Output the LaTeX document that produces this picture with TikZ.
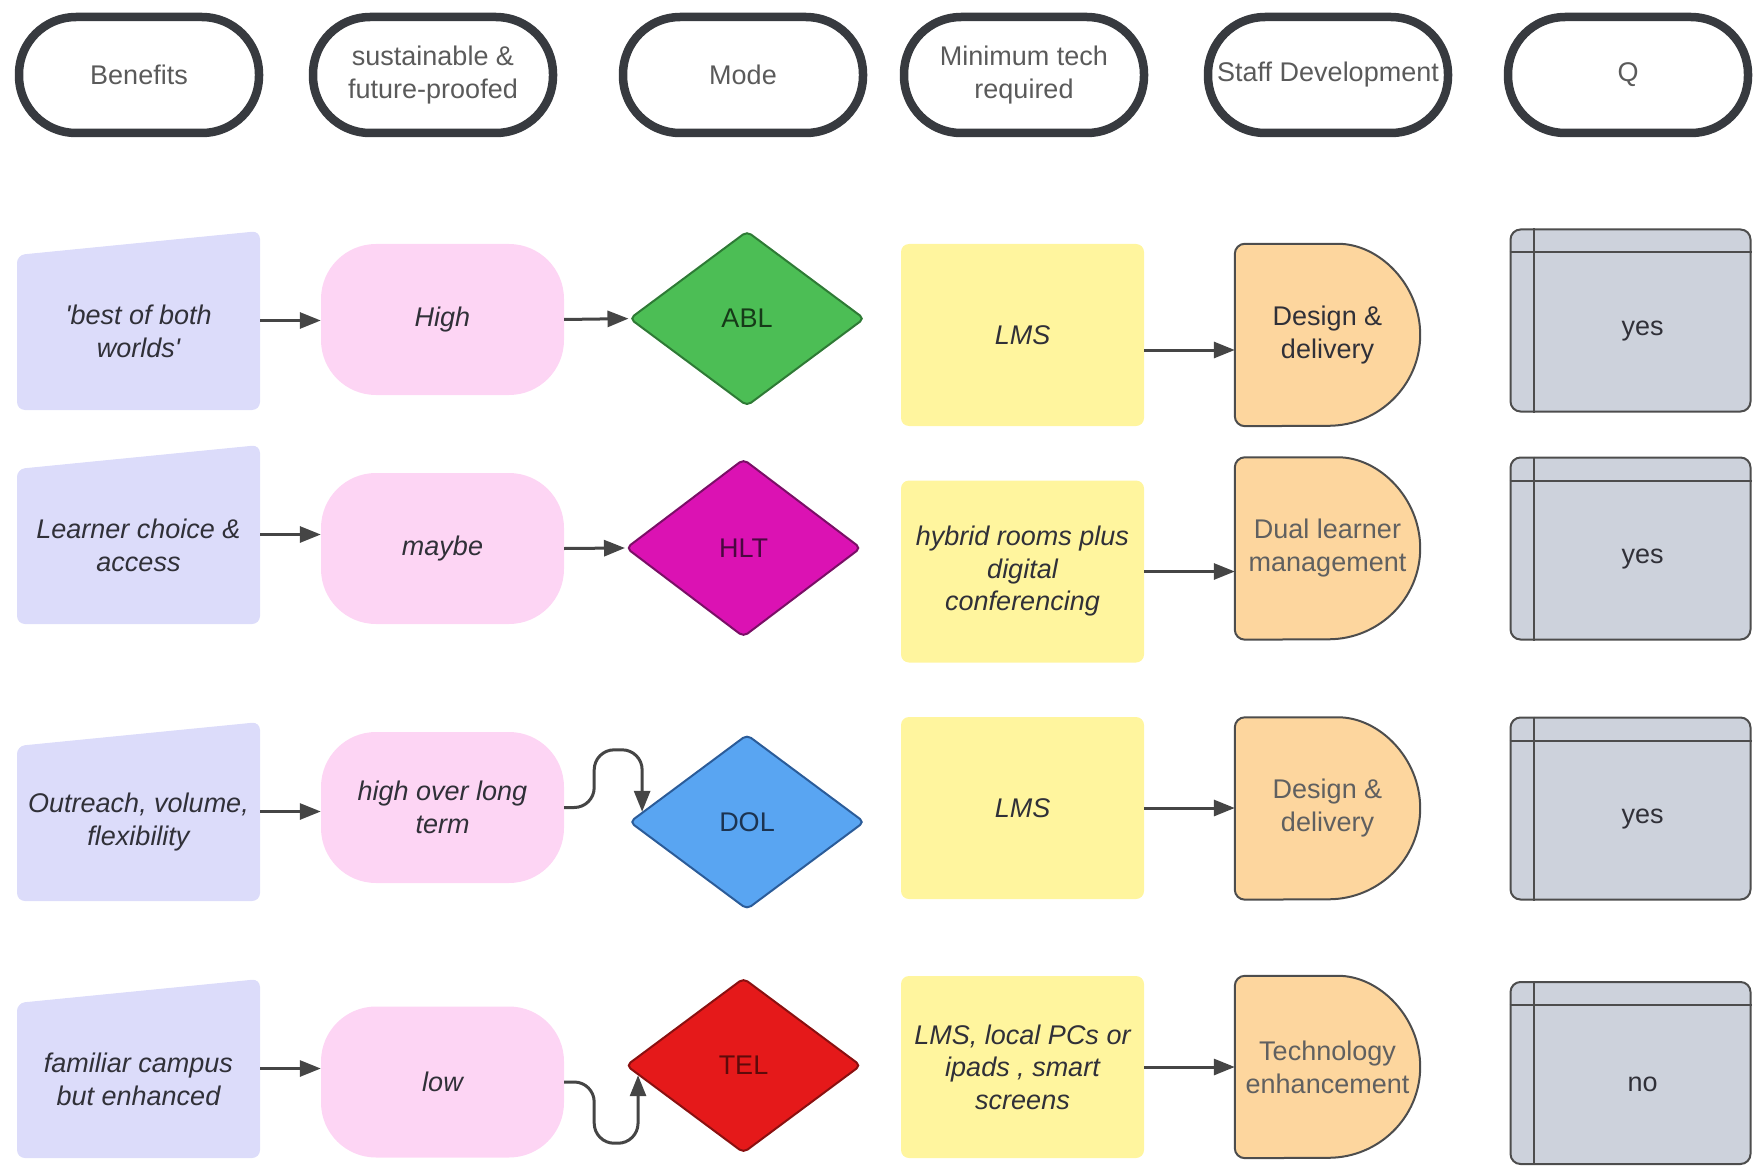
\documentclass[tikz,border=0pt]{standalone}
\usepackage{fontspec}
\setmainfont{Liberation Sans}
\usetikzlibrary{shapes.geometric, arrows.meta, calc, backgrounds}

% palette
\definecolor{hdrline}{HTML}{373A3F}
\definecolor{hdrtext}{HTML}{5A5A5A}
\definecolor{lav}{HTML}{DCDCFA}
\definecolor{pinkfill}{HTML}{FDD5F4}
\definecolor{yel}{HTML}{FFF59E}
\definecolor{orng}{HTML}{FDD69E}
\definecolor{qgrey}{HTML}{CDD2DC}
\definecolor{edge}{HTML}{4D4D4D}
\definecolor{arrowc}{HTML}{454545}
\definecolor{bodytext}{HTML}{303038}
\definecolor{softtext}{HTML}{606060}
\definecolor{ablfill}{HTML}{4CBE55}\definecolor{ablline}{HTML}{2E7A35}\definecolor{abltext}{HTML}{163A18}
\definecolor{hltfill}{HTML}{DB12B3}\definecolor{hltline}{HTML}{7A0F66}\definecolor{hlttext}{HTML}{4A0840}
\definecolor{dolfill}{HTML}{59A5F2}\definecolor{dolline}{HTML}{2B5C99}\definecolor{doltext}{HTML}{1C3350}
\definecolor{telfill}{HTML}{E5191A}\definecolor{telline}{HTML}{8A1010}\definecolor{teltext}{HTML}{5E0A0A}

\tikzset{
  every node/.style={font=\fontsize{27}{33}\selectfont, align=center, inner sep=0pt},
  header/.style={draw=hdrline, line width=8.5pt, rounded corners=57pt,
    minimum width=240pt, minimum height=116pt, text=hdrtext},
  benefit/.style={minimum width=243pt, minimum height=179pt,
    path picture={\fill[lav, rounded corners=8pt]
      (path picture bounding box.south west) -- (path picture bounding box.south east)
      -- (path picture bounding box.north east)
      -- ([yshift=-24pt]path picture bounding box.north west) -- cycle;}},
  bentext/.style={font=\fontsize{27}{33}\selectfont\itshape, text=bodytext},
  pill/.style={fill=pinkfill, rounded corners=55pt, minimum width=243pt,
    minimum height=151pt, font=\fontsize{27}{33}\selectfont\itshape, text=bodytext},
  mode/.style={diamond, minimum width=235pt, minimum height=175pt,
    line width=2pt, rounded corners=5pt},
  tech/.style={fill=yel, rounded corners=8pt, minimum width=243pt,
    minimum height=182pt, font=\fontsize{27}{32.5}\selectfont\itshape, text=bodytext},
  staff/.style={minimum width=185pt, minimum height=182pt},
  dshape/.style={fill=orng, draw=edge, line width=2pt},
  qbox/.style={fill=qgrey, draw=edge, line width=2pt, rounded corners=10pt,
    minimum width=240pt, minimum height=182pt},
  qline/.style={draw=edge, line width=2pt},
  flow/.style={draw=arrowc, line width=3pt, -{Triangle[length=21pt, width=16pt]}},
}

\begin{document}
\begin{tikzpicture}[x=1pt, y=-1pt]
\useasboundingbox (0,0) rectangle (1753,1166);

% column headers
\node[header] (h1) at (139,75)  {Benefits};
\node[header] (h2) at (433,75)  {sustainable \&\\future-proofed};
\node[header] (h3) at (743,75)  {Mode};
\node[header] (h4) at (1024,75) {Minimum tech\\required};
\node[header] (h5) at (1328,75) {Staff Development};
\node[header] (h6) at (1628,75) {Q};

% benefits column
\node[benefit] (b1) at (138.5,320.5) {};
\node[benefit] (b2) at (138.5,534.5) {};
\node[benefit] (b3) at (138.5,811.5) {};
\node[benefit] (b4) at (138.5,1068.5) {};
\node[bentext] (b1t) at ($(b1)+(0,11)$) {\textquotesingle best of both\\worlds\textquotesingle};
\node[bentext] (b2t) at ($(b2)+(0,11)$) {Learner choice \&\\access};
\node[bentext] (b3t) at ($(b3)+(0,11)$) {Outreach, volume,\\flexibility};
\node[bentext] (b4t) at ($(b4)+(0,11)$) {familiar campus\\but enhanced};

% sustainability column
\node[pill] (p1) at (442.5,319.5) {High};
\node[pill] (p2) at (442.5,548.5) {maybe};
\node[pill] (p3) at (442.5,807.5) {high over long\\term};
\node[pill] (p4) at (442.5,1082)  {low};

% mode column
\node[mode, fill=ablfill, draw=ablline, text=abltext] (d1) at (747,318.6)  {ABL};
\node[mode, fill=hltfill, draw=hltline, text=hlttext, minimum height=178pt] (d2) at (743.5,548) {HLT};
\node[mode, fill=dolfill, draw=dolline, text=doltext] (d3) at (747,822)    {DOL};
\node[mode, fill=telfill, draw=telline, text=teltext] (d4) at (743.5,1065.5) {TEL};

% technology column
\node[tech] (t1) at (1022.5,335)   {LMS};
\node[tech] (t2) at (1022.5,571.5) {hybrid rooms plus\\digital\\conferencing};
\node[tech] (t3) at (1022.5,808)   {LMS};
\node[tech] (t4) at (1022.5,1067)  {LMS, local PCs or\\ipads , smart\\screens};

% staff development column
\node[staff, text=bodytext]  (s1) at (1327.5,335)   {Design \&\\delivery};
\node[staff, text=softtext]  (s2) at (1327.5,548.5) {Dual learner\\management};
\node[staff, text=softtext]  (s3) at (1327.5,808.5) {Design \&\\delivery};
\node[staff, text=softtext]  (s4) at (1327.5,1067)  {Technology\\enhancement};
\begin{scope}[on background layer]
  \foreach \s in {s1,s2,s3,s4}
    \filldraw[dshape] ($(\s.north east)+(-92,0)$)
      arc[start angle=90, end angle=-90, x radius=92pt, y radius=91pt]
      [rounded corners=10pt] -- (\s.south west) -- (\s.north west) -- cycle;
\end{scope}

% Q column
\node[qbox] (q1) at (1630.5,320.5) {};
\node[qbox] (q2) at (1630.5,548.5) {};
\node[qbox] (q3) at (1630.5,808.5) {};
\node[qbox] (q4) at (1630.5,1073)  {};
\foreach \q in {q1,q2,q3,q4} {
  \draw[qline] ($(\q.north west)+(24,0)$) -- ($(\q.south west)+(24,0)$);
  \draw[qline] ($(\q.north west)+(0,24)$) -- ($(\q.north east)+(0,24)$);
}
\node[text=bodytext] (q1t) at ($(q1)+(12,11)$) {yes};
\node[text=bodytext] (q2t) at ($(q2)+(12,11)$) {yes};
\node[text=bodytext] (q3t) at ($(q3)+(12,11)$) {yes};
\node[text=bodytext] (q4t) at ($(q4)+(12,11)$) {no};

% benefits -> sustainability
\foreach \i in {1,2,3,4}
  \draw[flow] (b\i.east) -- (b\i.east -| p\i.west);

% sustainability -> mode
\draw[flow] (p1.east) -- (d1.west);
\draw[flow] (p2.east) -- (d2.west);
\coordinate (e3) at ($(d3.west)!0.115!(d3.north)$);
\draw[flow, rounded corners=20pt] (p3.east) -- ++(30,0) |- ($(e3)+(0,-62)$) -- (e3);
\coordinate (e4) at ($(d4.west)!0.11!(d4.south)$);
\draw[flow, rounded corners=20pt] (p4.east) -- ++(30,0) |- ($(e4)+(0,68)$) -- (e4);

% technology -> staff development
\coordinate (a1) at ([yshift=-15pt]t1.east);
\draw[flow] (a1) -- (a1 -| s1.west);
\foreach \i in {2,3,4}
  \draw[flow] (t\i.east) -- (t\i.east -| s\i.west);
\end{tikzpicture}
\end{document}
